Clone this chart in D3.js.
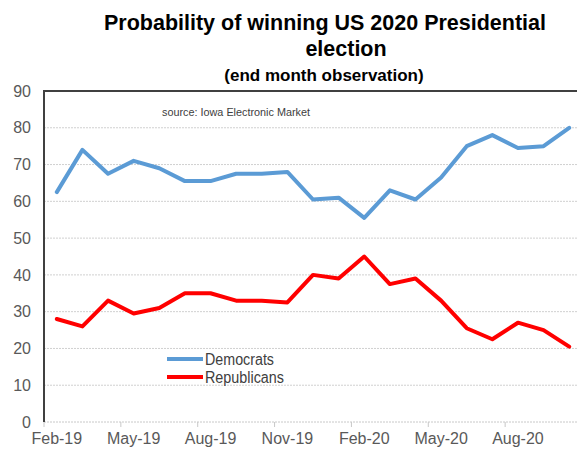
<!DOCTYPE html>
<html>
<head>
<meta charset="utf-8">
<script src="https://cdn.jsdelivr.net/npm/d3@7"></script>
<style>
  html, body { margin: 0; padding: 0; background: #fff; }
  svg { display: block; font-family: "Liberation Sans", Arial, sans-serif; }
</style>
</head>
<body>
<svg id="chart" width="577" height="455"></svg>
<script>
const months = ["Feb-19","Mar-19","Apr-19","May-19","Jun-19","Jul-19","Aug-19","Sep-19","Oct-19","Nov-19","Dec-19",
                "Jan-20","Feb-20","Mar-20","Apr-20","May-20","Jun-20","Jul-20","Aug-20","Sep-20","Oct-20"];
const democrats   = [62.5, 74, 67.5, 71, 69, 65.5, 65.5, 67.5, 67.5, 68, 60.5, 61, 55.5, 63, 60.5, 66.5, 75, 78, 74.5, 75, 80];
const republicans = [28, 26, 33, 29.5, 31, 35, 35, 33, 33, 32.5, 40, 39, 45, 37.5, 39, 33, 25.5, 22.5, 27, 25, 20.5];
const yTicks = [0, 10, 20, 30, 40, 50, 60, 70, 80, 90];
const xTickLabels = ["Feb-19", "May-19", "Aug-19", "Nov-19", "Feb-20", "May-20", "Aug-20"];
const seriesNames = ["Democrats", "Republicans"];
const titleLines = ["Probability of winning US 2020 Presidential", "election"];
const subtitle = "(end month observation)";
const sourceText = "source:  Iowa Electronic Market";

const svg = d3.select("#chart");
const x = d3.scaleBand().domain(months).range([44, 582]);
const y = d3.scaleLinear().domain([0, 90]).range([422, 91]);
const cx = m => x(m) + x.bandwidth() / 2;

// gridlines
svg.append("g").selectAll("line").data(yTicks.filter(v => v > 0 && v < 90)).join("line")
  .attr("x1", 44).attr("x2", 577).attr("y1", d => y(d)).attr("y2", d => y(d))
  .attr("stroke", "#d0d0d0").attr("stroke-width", 1).attr("stroke-dasharray", "2,1");

// baseline (0)
svg.append("line").attr("x1", 44).attr("x2", 577).attr("y1", y(0)).attr("y2", y(0))
  .attr("stroke", "#c8c8c8").attr("stroke-width", 1).attr("stroke-dasharray", "2,1");

// top border
svg.append("line").attr("x1", 43).attr("x2", 577).attr("y1", y(90)).attr("y2", y(90))
  .attr("stroke", "#404040").attr("stroke-width", 2);

// y axis
const yAxis = svg.append("g").attr("transform", "translate(44,0)")
  .call(d3.axisLeft(y).tickValues(yTicks).tickSize(0).tickPadding(13));
yAxis.select(".domain").remove();
yAxis.selectAll("text").attr("fill", "#595959").attr("font-size", 16)
  .attr("font-family", "Liberation Sans, Arial, sans-serif");
svg.append("line").attr("x1", 44).attr("x2", 44).attr("y1", y(90)).attr("y2", y(0))
  .attr("stroke", "#404040").attr("stroke-width", 2);

// x axis labels
const xAxis = svg.append("g").attr("transform", `translate(0,${y(0)})`)
  .call(d3.axisBottom(x).tickValues(xTickLabels).tickSize(0).tickPadding(11));
xAxis.select(".domain").remove();
xAxis.selectAll("text").attr("fill", "#595959").attr("font-size", 16)
  .attr("font-family", "Liberation Sans, Arial, sans-serif");
// x tick marks at category boundaries
svg.append("g").selectAll("line").data(xTickLabels).join("line")
  .attr("x1", d => x(d)).attr("x2", d => x(d))
  .attr("y1", y(0)).attr("y2", y(0) + 5)
  .attr("stroke", "#c8c8c8").attr("stroke-width", 1);

// lines
const line = d3.line().x((d, i) => cx(months[i])).y(d => y(d));
svg.append("path").datum(democrats).attr("d", line)
  .attr("fill", "none").attr("stroke", "#5B9BD5").attr("stroke-width", 4)
  .attr("stroke-linejoin", "round").attr("stroke-linecap", "round");
svg.append("path").datum(republicans).attr("d", line)
  .attr("fill", "none").attr("stroke", "#FF0000").attr("stroke-width", 4)
  .attr("stroke-linejoin", "round").attr("stroke-linecap", "round");

// legend
const legendColors = ["#5B9BD5", "#FF0000"];
const legendWidths = [69, 79];
const lg = svg.append("g");
seriesNames.forEach((name, i) => {
  const ly = 359 + i * 18;
  lg.append("line").attr("x1", 167).attr("x2", 203).attr("y1", ly).attr("y2", ly)
    .attr("stroke", legendColors[i]).attr("stroke-width", 4);
  lg.append("text").attr("x", 205).attr("y", ly + 6).attr("font-size", 16)
    .attr("fill", "#404040").attr("textLength", legendWidths[i]).attr("lengthAdjust", "spacingAndGlyphs")
    .text(name);
});

// source
svg.append("text").attr("x", 162).attr("y", 116).attr("font-size", 10.5)
  .attr("fill", "#404040").attr("textLength", 148).attr("lengthAdjust", "spacingAndGlyphs")
  .text(sourceText);

// title
svg.append("text").attr("x", 325).attr("y", 30).attr("font-size", 21.5).attr("font-weight", "bold")
  .attr("text-anchor", "middle").attr("fill", "#000")
  .text(titleLines[0]);
svg.append("text").attr("x", 346).attr("y", 56).attr("font-size", 21.5).attr("font-weight", "bold")
  .attr("text-anchor", "middle").attr("fill", "#000")
  .text(titleLines[1]);
svg.append("text").attr("x", 324).attr("y", 81).attr("font-size", 17).attr("font-weight", "bold")
  .attr("text-anchor", "middle").attr("fill", "#000")
  .text(subtitle);
</script>
</body>
</html>
